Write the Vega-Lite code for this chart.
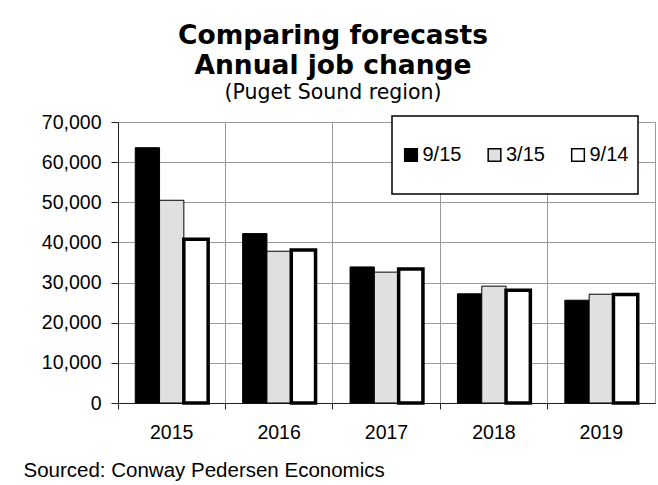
{
  "$schema": "https://vega.github.io/schema/vega-lite/v6.json",
  "autosize": {"type": "none"},
  "padding": {"left": 118, "top": 122, "right": 3, "bottom": 82},
  "width": 537,
  "height": 281,
  "background": "white",
  "title": {
    "text": ["Comparing forecasts", "Annual job change"],
    "subtitle": "(Puget Sound region)",
    "anchor": "middle",
    "dx": -53.5,
    "offset": 9,
    "font": "DejaVu Sans",
    "fontSize": 26.5,
    "fontWeight": "bold",
    "lineHeight": 30,
    "color": "#000000",
    "subtitleFont": "DejaVu Sans",
    "subtitleFontSize": 20.5,
    "subtitleColor": "#000000",
    "subtitlePadding": 3
  },
  "data": {
    "values": [
      {"year": "2015", "forecast": "9/15", "jobs": 63600},
      {"year": "2015", "forecast": "3/15", "jobs": 50500},
      {"year": "2015", "forecast": "9/14", "jobs": 40800},
      {"year": "2016", "forecast": "9/15", "jobs": 42200},
      {"year": "2016", "forecast": "3/15", "jobs": 37800},
      {"year": "2016", "forecast": "9/14", "jobs": 38100},
      {"year": "2017", "forecast": "9/15", "jobs": 33900},
      {"year": "2017", "forecast": "3/15", "jobs": 32600},
      {"year": "2017", "forecast": "9/14", "jobs": 33400},
      {"year": "2018", "forecast": "9/15", "jobs": 27200},
      {"year": "2018", "forecast": "3/15", "jobs": 29100},
      {"year": "2018", "forecast": "9/14", "jobs": 28100},
      {"year": "2019", "forecast": "9/15", "jobs": 25600},
      {"year": "2019", "forecast": "3/15", "jobs": 27100},
      {"year": "2019", "forecast": "9/14", "jobs": 27000}
    ]
  },
  "mark": {"type": "bar", "stroke": "#000000"},
  "encoding": {
    "x": {
      "field": "year",
      "type": "nominal",
      "scale": {"paddingInner": 0, "paddingOuter": 0},
      "axis": {
        "bandPosition": 0,
        "labelAngle": 0,
        "grid": true,
        "tickSize": 6,
        "labelPadding": 14,
        "title": "Sourced: Conway Pedersen Economics",
        "titleX": -95,
        "titleY": 73,
        "titleAlign": "left",
        "titleAnchor": null,
        "titleBaseline": "alphabetic",
        "titleFont": "Liberation Sans",
        "titleFontSize": 20.5,
        "titleFontWeight": "normal",
        "titleColor": "#000000"
      }
    },
    "xOffset": {
      "field": "forecast",
      "type": "nominal",
      "scale": {"domain": ["9/15", "3/15", "9/14"], "paddingInner": 0, "paddingOuter": 0.71}
    },
    "y": {
      "field": "jobs",
      "type": "quantitative",
      "scale": {"domain": [0, 70000], "nice": false},
      "axis": {
        "values": [0, 10000, 20000, 30000, 40000, 50000, 60000, 70000],
        "format": ",.0f",
        "title": null,
        "tickSize": 7,
        "labelPadding": 10
      }
    },
    "fill": {
      "field": "forecast",
      "type": "nominal",
      "scale": {"domain": ["9/15", "3/15", "9/14"], "range": ["#000000", "#e0e0e0", "#ffffff"]},
      "legend": {
        "title": " ",
        "titleFontSize": 10,
        "titlePadding": 10,
        "orient": "none",
        "direction": "horizontal",
        "legendX": 274,
        "legendY": -6,
        "labelExpr": "[datum.label, '']",
        "encode": {
          "symbols": {
            "update": {
              "stroke": {"value": "#000000"},
              "strokeWidth": {"signal": "datum.value === '9/14' ? 3 : 1"}
            }
          }
        }
      }
    },
    "strokeWidth": {
      "condition": {"test": "datum.forecast === '9/14'", "value": 3.5},
      "value": 1
    }
  },
  "config": {
    "view": {"stroke": "#9a9a9a", "strokeWidth": 1},
    "style": {"guide-label": {"lineHeight": 20}},
    "axis": {
      "labelFont": "Liberation Sans",
      "labelFontSize": 19.5,
      "labelColor": "#000000",
      "gridColor": "#9a9a9a",
      "gridWidth": 1,
      "gridOpacity": 1,
      "domainColor": "#222222",
      "domainWidth": 1,
      "tickColor": "#222222",
      "tickWidth": 1
    },
    "legend": {
      "padding": 9,
      "fillColor": "#ffffff",
      "strokeColor": "#000000",
      "strokeWidth": 1.5,
      "labelFont": "Liberation Sans",
      "labelFontSize": 20,
      "labelColor": "#000000",
      "labelOffset": 1.5,
      "columnPadding": 22.5,
      "symbolType": "square",
      "symbolSize": 160
    }
  }
}
